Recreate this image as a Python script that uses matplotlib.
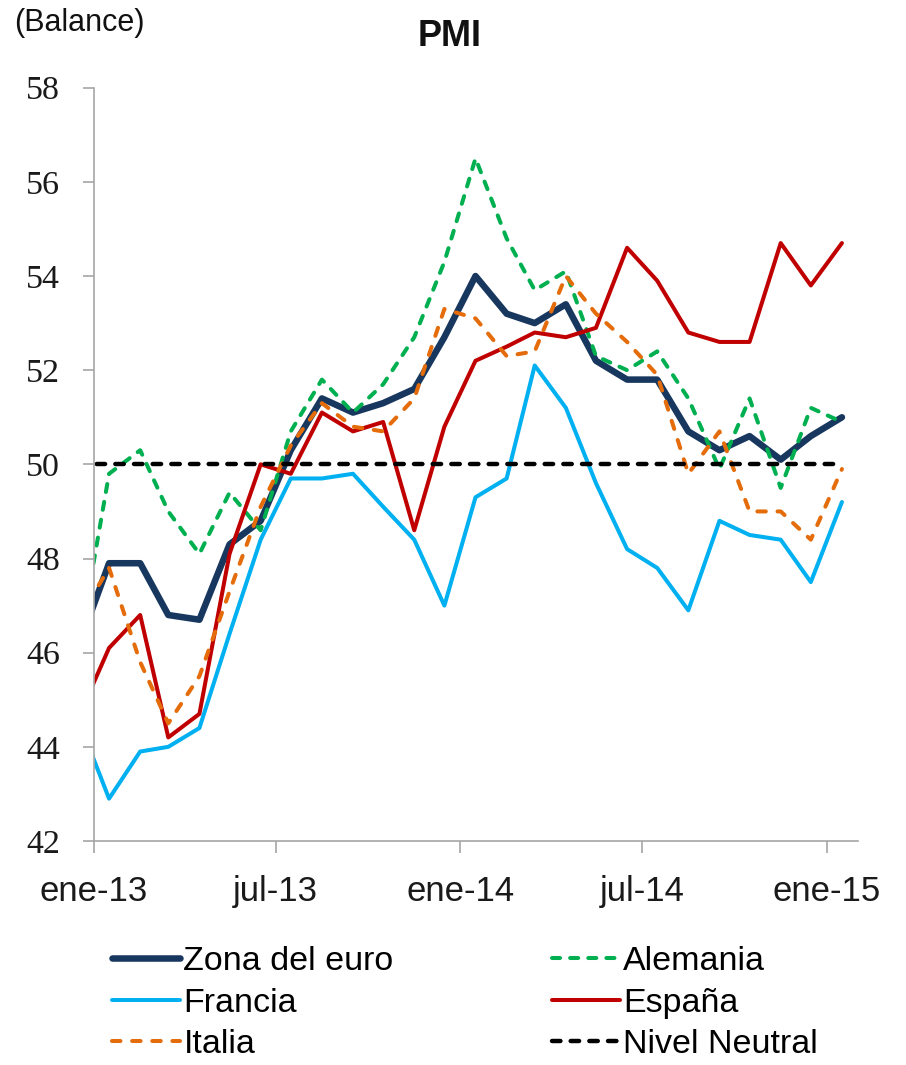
import matplotlib
matplotlib.use("Agg")
import matplotlib.pyplot as plt
from matplotlib import font_manager
import pandas as pd

# Monthly manufacturing PMI readings, Dec 2012 - Jan 2015
months = pd.date_range("2012-12-01", periods=26, freq="MS") + pd.Timedelta(days=15)

zona_euro = [46.1, 47.9, 47.9, 46.8, 46.7, 48.3, 48.8, 50.3, 51.4, 51.1, 51.3, 51.6, 52.7,
             54.0, 53.2, 53.0, 53.4, 52.2, 51.8, 51.8, 50.7, 50.3, 50.6, 50.1, 50.6, 51.0]
alemania = [46.0, 49.8, 50.3, 49.0, 48.1, 49.4, 48.6, 50.7, 51.8, 51.1, 51.7, 52.7, 54.3,
            56.5, 54.8, 53.7, 54.1, 52.3, 52.0, 52.4, 51.4, 49.9, 51.4, 49.5, 51.2, 50.9]
francia = [44.6, 42.9, 43.9, 44.0, 44.4, 46.4, 48.4, 49.7, 49.7, 49.8, 49.1, 48.4, 47.0,
           49.3, 49.7, 52.1, 51.2, 49.6, 48.2, 47.8, 46.9, 48.8, 48.5, 48.4, 47.5, 49.2]
espana = [44.6, 46.1, 46.8, 44.2, 44.7, 48.1, 50.0, 49.8, 51.1, 50.7, 50.9, 48.6, 50.8,
          52.2, 52.5, 52.8, 52.7, 52.9, 54.6, 53.9, 52.8, 52.6, 52.6, 54.7, 53.8, 54.7]
italia = [46.7, 47.8, 45.8, 44.5, 45.5, 47.3, 49.1, 50.4, 51.3, 50.8, 50.7, 51.4, 53.3,
          53.1, 52.3, 52.4, 54.0, 53.2, 52.6, 51.9, 49.8, 50.7, 49.0, 49.0, 48.4, 49.9]
nivel_neutral = [50.0] * 26

tick_dates = pd.to_datetime(["2013-01-01", "2013-07-01", "2014-01-01", "2014-07-01", "2015-01-01"])
tick_labels = ["ene-13", "jul-13", "ene-14", "jul-14", "ene-15"]
y_ticks = [42, 44, 46, 48, 50, 52, 54, 56, 58]

installed = {f.name for f in font_manager.fontManager.ttflist}


def pick(*names):
    for n in names:
        if n in installed:
            return n
    return "DejaVu Sans"


SANS = pick("Liberation Sans", "Arimo", "DejaVu Sans")
SERIF = pick("Liberation Serif", "DejaVu Serif")

W, H = 906, 1065
fig = plt.figure(figsize=(W / 100, H / 100), dpi=100)
ax = fig.add_axes([94 / W, (H - 841) / H, (858 - 94) / W, 753.3 / H])

styles = [
    ("Zona del euro", zona_euro, dict(color="#17375E", lw=4.7)),
    ("Alemania", alemania, dict(color="#00B050", lw=2.9, dashes=(2.0, 2.5))),
    ("Francia", francia, dict(color="#00B0F0", lw=2.9)),
    ("España", espana, dict(color="#C00000", lw=2.9)),
    ("Italia", italia, dict(color="#E46C0A", lw=2.9, dashes=(2.1, 2.9))),
    ("Nivel Neutral", nivel_neutral, dict(color="#000000", lw=3.2, dashes=(1.9, 2.3))),
]

lines = {}
for name, values, kw in styles:
    (ln,) = ax.plot(months, values, label=name, solid_capstyle="round",
                    dash_capstyle="round", solid_joinstyle="round",
                    dash_joinstyle="round", **kw)
    lines[name] = ln

ax.set_xlim(pd.Timestamp("2013-01-01"), pd.Timestamp("2015-02-01"))
ax.set_ylim(42, 58)
ax.set_yticks(y_ticks)
ax.set_xticks(tick_dates)
ax.set_xticklabels(tick_labels)
ax.xaxis.set_minor_locator(plt.NullLocator())

for side in ("top", "right"):
    ax.spines[side].set_visible(False)
for side in ("left", "bottom"):
    ax.spines[side].set_color("#A6A6A6")
    ax.spines[side].set_linewidth(1.2)

ax.tick_params(axis="y", direction="out", length=8, width=1.2, color="#A6A6A6",
               pad=16.5, labelsize=24.5, labelcolor="#1a1a1a")
ax.tick_params(axis="x", direction="out", length=8.5, width=1.2, color="#A6A6A6",
               pad=16, labelsize=25, labelcolor="#1a1a1a")
for lbl in ax.get_yticklabels():
    lbl.set_fontfamily(SERIF)
for lbl in ax.get_xticklabels():
    lbl.set_fontfamily(SANS)

fig.text(450 / W, 1 - 36 / H, "PMI", ha="center", va="center",
         fontsize=26, fontweight="bold", family=SANS, color="#111111")
fig.text(14 / W, 1 - 23 / H, "(Balance)", ha="left", va="center",
         fontsize=22, family=SANS, color="#111111")

order = ["Zona del euro", "Francia", "Italia", "Alemania", "España", "Nivel Neutral"]
fig.legend([lines[n] for n in order], order, loc="upper left",
           bbox_to_anchor=(112 / W, 1 - 946 / H), ncol=2, frameon=False,
           borderpad=0, borderaxespad=0, handlelength=2.0, handletextpad=0.1,
           columnspacing=4.65, labelspacing=0.31,
           prop={"family": SANS, "size": 24.5})

fig.savefig("out.png", dpi=100)
